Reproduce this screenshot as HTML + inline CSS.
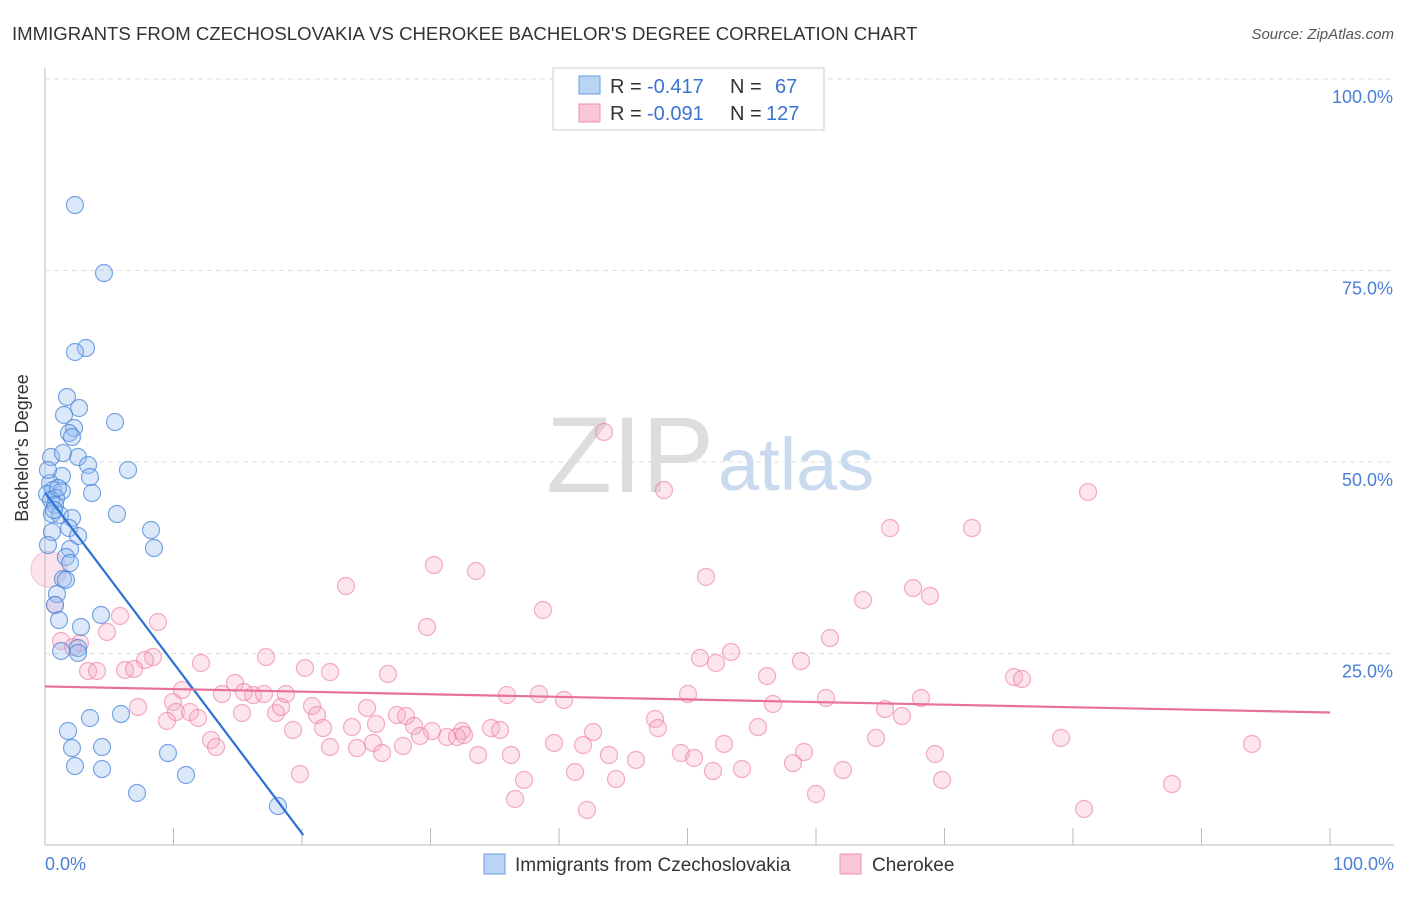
<!DOCTYPE html>
<html><head><meta charset="utf-8"><style>
body{margin:0;background:#fff;font-family:"Liberation Sans",sans-serif;}
svg text{font-family:"Liberation Sans",sans-serif;}
</style></head><body>
<svg id="chart" width="1406" height="892">
<text x="12" y="40" font-size="18.6" fill="#333">IMMIGRANTS FROM CZECHOSLOVAKIA VS CHEROKEE BACHELOR'S DEGREE CORRELATION CHART</text>
<text x="1394" y="39" font-size="15" fill="#555" text-anchor="end" font-style="italic">Source: ZipAtlas.com</text>
<g id="grid"></g>
<text x="714" y="492" font-size="108" fill="#ddd" text-anchor="end" font-family="Liberation Serif">ZIP</text>
<text x="718" y="490" font-size="74" fill="#c9d9ee">atlas</text>
<g id="pts"></g>
<g id="trends"></g>
<text x="36" y="456" font-size="18" fill="#333" text-anchor="middle" transform="rotate(-90 28 456)">Bachelor's Degree</text>
<text x="45" y="870" font-size="18" fill="#4a7fd6">0.0%</text>
<text x="1394" y="870" font-size="18" fill="#4a7fd6" text-anchor="end">100.0%</text>
<g>
<rect x="553" y="68" width="271" height="62" fill="#fff" stroke="#ccc"/>
<rect x="579" y="76" width="21" height="18" fill="#b9d4f5" stroke="#6a9ee0"/>
<rect x="579" y="104" width="21" height="18" fill="#f9c6d6" stroke="#ef8fae"/>
<g>
<text x="610" y="93" font-size="20" fill="#333">R =</text><text x="647" y="93" font-size="20" fill="#3b73d0">-0.417</text>
<text x="730" y="93" font-size="20" fill="#333">N =</text><text x="775" y="93" font-size="20" fill="#3b73d0">67</text></g>
<g>
<text x="610" y="120" font-size="20" fill="#333">R =</text><text x="647" y="120" font-size="20" fill="#3b73d0">-0.091</text>
<text x="730" y="120" font-size="20" fill="#333">N =</text><text x="766" y="120" font-size="20" fill="#3b73d0">127</text></g>
</g>
<g>
<rect x="484" y="854" width="21" height="20" fill="#b9d4f5" stroke="#6a9ee0"/>
<text x="515" y="871" font-size="19" fill="#333">Immigrants from Czechoslovakia</text>
<rect x="840" y="854" width="21" height="20" fill="#f9c6d6" stroke="#ef8fae"/>
<text x="872" y="871" font-size="19" fill="#333">Cherokee</text>
</g>
</svg>
<script>
const yTicks=[25,50,75,100];
const yTickLabels=["25.0%","50.0%","75.0%","100.0%"];
const xTicks=[0,10,20,30,40,50,60,70,80,90,100];
const bluePx=[[75,205],[104,273],[86,348],[75,352],[67,397],[79,408],[64,415],[115,422],[74,428],[69,433],[72,437],[78,457],[51,457],[63,453],[88,465],[128,470],[62,476],[90,477],[50,483],[53,490],[62,491],[47,494],[56,498],[92,493],[51,500],[55,505],[117,514],[52,514],[60,515],[72,518],[151,530],[69,528],[52,532],[78,536],[154,548],[70,549],[48,545],[66,557],[70,563],[63,579],[66,580],[57,594],[55,605],[101,615],[59,620],[81,627],[78,648],[61,651],[78,653],[90,718],[121,714],[68,731],[72,748],[102,747],[168,753],[75,766],[102,769],[186,775],[137,793],[278,806],[48,470],[54,510],[58,488]];
const pinkPx=[[604,432],[664,490],[1088,492],[890,528],[972,528],[346,586],[434,565],[476,571],[706,577],[913,588],[930,596],[863,600],[543,610],[427,627],[120,616],[158,622],[107,632],[61,641],[80,643],[73,647],[830,638],[700,658],[731,652],[716,663],[801,661],[767,676],[266,657],[201,663],[153,657],[145,660],[305,668],[330,672],[388,674],[88,671],[97,671],[125,670],[134,669],[1014,677],[1022,679],[235,683],[182,690],[253,695],[222,694],[244,692],[264,694],[286,694],[507,695],[539,694],[564,700],[688,694],[826,698],[921,698],[773,704],[138,707],[173,702],[312,706],[367,708],[176,712],[190,712],[198,718],[242,713],[276,713],[281,707],[317,715],[397,715],[406,716],[885,709],[902,716],[167,721],[323,728],[352,727],[376,724],[414,726],[432,731],[462,731],[491,728],[500,730],[593,732],[655,719],[658,728],[758,727],[211,740],[216,747],[293,730],[420,736],[447,737],[457,737],[464,735],[330,747],[357,748],[373,743],[382,753],[403,746],[554,743],[583,745],[724,744],[876,738],[1061,738],[1252,744],[478,755],[511,755],[609,755],[636,760],[681,753],[694,758],[804,752],[935,754],[300,774],[524,780],[575,772],[616,779],[713,771],[742,769],[793,763],[843,770],[942,780],[1172,784],[515,799],[816,794],[587,810],[1084,809],[55,605]];
const blueX=bluePx.map(p=>+((p[0]-45)/12.85).toFixed(2));
const blueY=bluePx.map(p=>+((845-p[1])/7.66).toFixed(2));
const pinkX=pinkPx.map(p=>+((p[0]-45)/12.85).toFixed(2));
const pinkY=pinkPx.map(p=>+((845-p[1])/7.66).toFixed(2));
const blueTrend=[[0,46.0],[20.1,1.3]];
const pinkTrend=[[0,20.7],[100,17.3]];
function sx(v){return 45+v*12.85;}
function sy(v){return 845-v*7.66;}
const NS="http://www.w3.org/2000/svg";
const grid=document.getElementById('grid');
function mk(tag,attrs,parent){const e=document.createElementNS(NS,tag);for(const k in attrs)e.setAttribute(k,attrs[k]);parent.appendChild(e);return e;}
let ax=mk('line',{x1:45,y1:68,x2:45,y2:845,stroke:'#bbb'},grid);


let bx=mk('line',{x1:45,y1:845,x2:1394,y2:845,stroke:'#bbb'},grid);


yTicks.forEach((t,i)=>{
 let l=mk('line',{x1:45,y1:sy(t),x2:1394,y2:sy(t),stroke:'#ddd','stroke-dasharray':'5,4'},grid);
 
 
 let tx=mk('text',{x:1393,y:sy(t)+24,'font-size':18,fill:'#4a7fd6','text-anchor':'end'},grid);
 tx.textContent=yTickLabels[i];
 
 
});
xTicks.forEach(t=>{
 let l=mk('line',{x1:sx(t),y1:828,x2:sx(t),y2:845,stroke:'#bbb'},grid);
 
 
});
const pts=document.getElementById('pts');
let big=mk('circle',{cx:sx(0.3),cy:sy(36),r:18,fill:'rgba(244,160,186,0.3)',stroke:'rgba(236,120,160,0.4)'},pts);


pinkX.forEach((x,i)=>{
 let c=mk('circle',{cx:sx(x),cy:sy(pinkY[i]),r:8.5,fill:'rgba(246,170,195,0.3)',stroke:'rgba(236,120,160,0.6)','stroke-width':1.2},pts);
 
 
});
blueX.forEach((x,i)=>{
 let c=mk('circle',{cx:sx(x),cy:sy(blueY[i]),r:8.5,fill:'rgba(150,190,240,0.35)',stroke:'rgba(70,130,215,0.7)','stroke-width':1.2},pts);
 
 
});
const tr=document.getElementById('trends');
let lb=mk('line',{x1:sx(blueTrend[0][0]),y1:sy(blueTrend[0][1]),x2:sx(blueTrend[1][0]),y2:sy(blueTrend[1][1]),stroke:'#2d6fd6','stroke-width':2.2},tr);


let lp=mk('line',{x1:sx(pinkTrend[0][0]),y1:sy(pinkTrend[0][1]),x2:sx(pinkTrend[1][0]),y2:sy(pinkTrend[1][1]),stroke:'#e8709a','stroke-width':2.2},tr);


</script>
</body></html>
